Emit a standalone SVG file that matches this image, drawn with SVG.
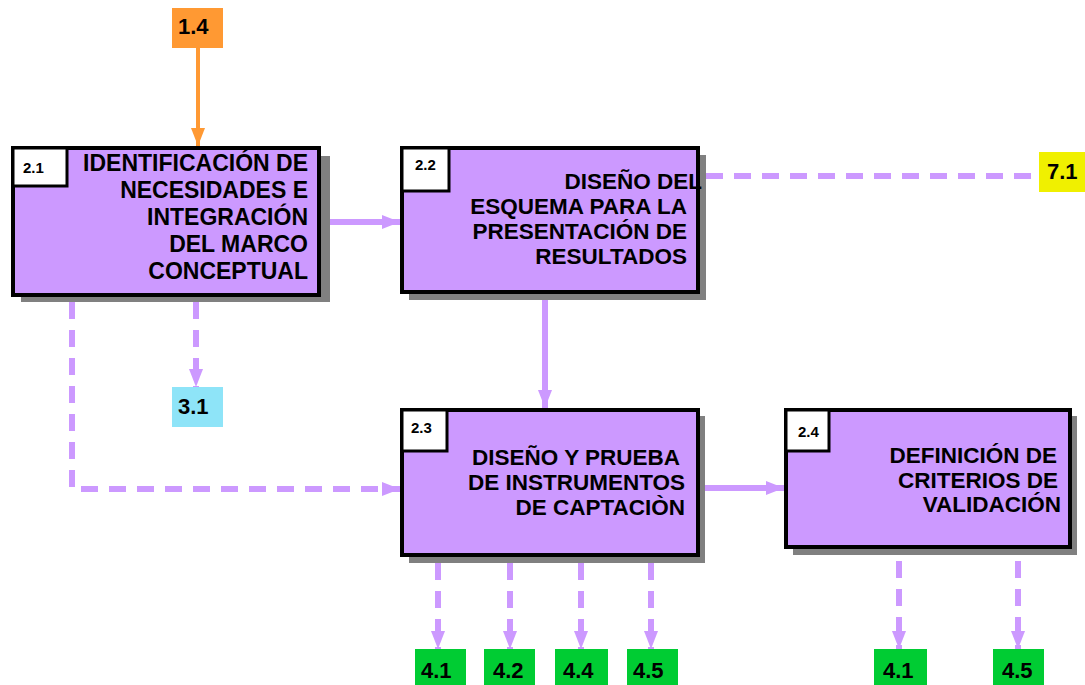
<svg xmlns="http://www.w3.org/2000/svg" width="1085" height="685" viewBox="0 0 1085 685">
<style>
.shadow{fill:#808080}
.box{fill:#CC99FF;stroke:#000;stroke-width:4}
.num{fill:#fff;stroke:#000;stroke-width:3}
.numt{font-family:"Liberation Sans",Arial,sans-serif;font-weight:bold;font-size:15px;fill:#000}
.title{font-family:"Liberation Sans",Arial,sans-serif;font-weight:bold;font-size:22.5px;fill:#000;text-anchor:end}
.big{font-size:23px}
.lbl{font-family:"Liberation Sans",Arial,sans-serif;font-weight:bold;font-size:22px;fill:#000}
.solid{fill:none;stroke:#CC99FF;stroke-width:6}
.dash{fill:none;stroke:#CC99FF;stroke-width:6;stroke-dasharray:17 11}
</style>
<defs>
<marker id="ah" markerUnits="userSpaceOnUse" markerWidth="18" markerHeight="14" refX="18" refY="7" orient="auto"><path d="M0,0 L18,7 L0,14 z" fill="#CC99FF"/></marker>
<marker id="ao" markerUnits="userSpaceOnUse" markerWidth="18" markerHeight="14" refX="18" refY="7" orient="auto"><path d="M0,0 L18,7 L0,14 z" fill="#FF9933"/></marker>
</defs>
<rect width="1085" height="685" fill="#fff"/>
<g id="connectors">
<path d="M198,48 V146" fill="none" stroke="#FF9933" stroke-width="4" marker-end="url(#ao)"/>
<path class="solid" d="M330,222 H400" marker-end="url(#ah)"/>
<path class="solid" d="M545,300 V408" marker-end="url(#ah)"/>
<path class="solid" d="M705,488 H784" marker-end="url(#ah)"/>
<path class="dash" d="M706,176 H1039"/>
<path class="dash" d="M196,302 V387" marker-end="url(#ah)"/>
<path class="dash" d="M72,302 V489 H400" marker-end="url(#ah)"/>
<path class="dash" d="M438,563 V649" marker-end="url(#ah)"/>
<path class="dash" d="M510,563 V649" marker-end="url(#ah)"/>
<path class="dash" d="M581,563 V649" marker-end="url(#ah)"/>
<path class="dash" d="M651,563 V649" marker-end="url(#ah)"/>
<path class="dash" d="M899,561 V649" marker-end="url(#ah)"/>
<path class="dash" d="M1018,561 V649" marker-end="url(#ah)"/>
</g>
<g id="n2_1">
<rect class="shadow" x="21" y="156" width="309" height="146"/>
<rect class="box" x="13" y="148" width="306" height="147"/>
<rect class="num" x="13" y="148" width="54" height="38"/>
<text class="numt" x="23" y="173">2.1</text>
<text class="title big" x="308" y="171">IDENTIFICACIÓN DE</text>
<text class="title big" x="308" y="198">NECESIDADES E</text>
<text class="title big" x="308" y="225">INTEGRACIÓN</text>
<text class="title big" x="308" y="252">DEL MARCO</text>
<text class="title big" x="308" y="279">CONCEPTUAL</text>
</g>
<g id="n2_2">
<rect class="shadow" x="409" y="155" width="297" height="145"/>
<rect class="box" x="402" y="148" width="296" height="144"/>
<rect class="num" x="402" y="148" width="47" height="43"/>
<text class="numt" x="415" y="170">2.2</text>
<text class="title" x="702" y="189">DISEÑO  DEL</text>
<text class="title" x="687" y="214">ESQUEMA PARA LA</text>
<text class="title" x="687" y="239">PRESENTACIÓN DE</text>
<text class="title" x="687" y="264">RESULTADOS</text>
</g>
<g id="n2_3">
<rect class="shadow" x="409" y="416" width="296" height="147"/>
<rect class="box" x="402" y="410" width="296" height="145"/>
<rect class="num" x="402" y="410" width="45" height="41"/>
<text class="numt" x="411" y="433">2.3</text>
<text class="title" x="680" y="465">DISEÑO Y PRUEBA</text>
<text class="title" x="685" y="490">DE INSTRUMENTOS</text>
<text class="title" x="685" y="515">DE CAPTACIÒN</text>
</g>
<g id="n2_4">
<rect class="shadow" x="793" y="416" width="284" height="139"/>
<rect class="box" x="786" y="410" width="284" height="137"/>
<rect class="num" x="786" y="410" width="43" height="41"/>
<text class="numt" x="798" y="437">2.4</text>
<text class="title" x="1057" y="463">DEFINICIÓN DE</text>
<text class="title" x="1058" y="488">CRITERIOS DE</text>
<text class="title" x="1061" y="512">VALIDACIÓN</text>
</g>
<g id="l1_4"><rect x="172" y="8" width="51" height="40" fill="#FF9933"/><text class="lbl" x="178" y="34">1.4</text></g>
<g id="l7_1"><rect x="1039" y="152" width="46" height="40" fill="#F0F000"/><text class="lbl" x="1047" y="179">7.1</text></g>
<g id="l3_1"><rect x="172" y="387" width="51" height="40" fill="#8EE4F8"/><text class="lbl" x="178" y="414">3.1</text></g>
<g id="l4_1a"><rect x="415" y="649" width="51" height="40" fill="#00CC33"/><text class="lbl" x="421" y="678">4.1</text></g>
<g id="l4_2"><rect x="484" y="649" width="51" height="40" fill="#00CC33"/><text class="lbl" x="493" y="678">4.2</text></g>
<g id="l4_4"><rect x="555" y="649" width="53" height="40" fill="#00CC33"/><text class="lbl" x="563" y="678">4.4</text></g>
<g id="l4_5a"><rect x="627" y="649" width="51" height="40" fill="#00CC33"/><text class="lbl" x="633" y="678">4.5</text></g>
<g id="l4_1b"><rect x="874" y="649" width="53" height="40" fill="#00CC33"/><text class="lbl" x="883" y="678">4.1</text></g>
<g id="l4_5b"><rect x="993" y="649" width="51" height="40" fill="#00CC33"/><text class="lbl" x="1002" y="678">4.5</text></g>
</svg>
